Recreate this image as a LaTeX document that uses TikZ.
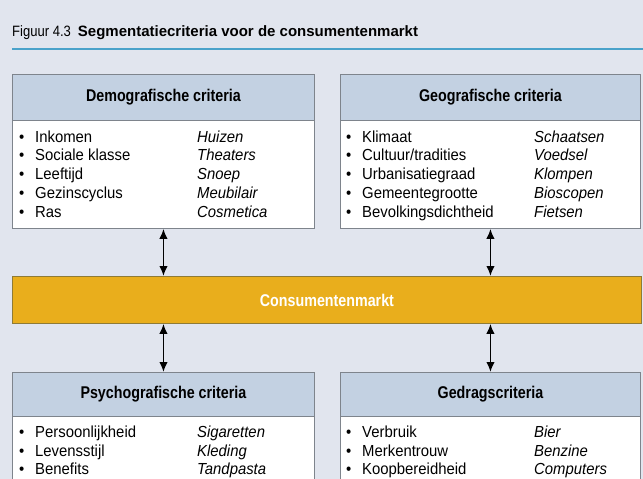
\documentclass[tikz,border=0pt]{standalone}
\usepackage{fontspec}
\setmainfont{Liberation Sans}
\newfontfamily\headfont[FakeStretch=0.84]{Liberation Sans}
\newfontfamily\bodyfont[FakeStretch=0.93]{Liberation Sans}
\newfontfamily\figfont[FakeStretch=0.87]{Liberation Sans}
\usetikzlibrary{arrows.meta}

\definecolor{bgpage}{HTML}{E1E5EE}
\definecolor{hdrfill}{HTML}{C3D1E2}
\definecolor{frameclr}{HTML}{7E848C}
\definecolor{barfill}{HTML}{E9AE1C}
\definecolor{barframe}{HTML}{8F7B36}
\definecolor{ruleclr}{HTML}{4AA2CA}

\tikzset{
  panel/.style={draw=frameclr, line width=0.9pt, fill=white, rectangle,
                inner sep=0pt, anchor=north west},
  panelhead/.style={draw=frameclr, line width=0.9pt, fill=hdrfill, rectangle,
                inner sep=0pt, anchor=north west},
  headtext/.style={inner sep=0pt, font=\headfont\bfseries\fontsize{17}{20}\selectfont},
  itemtext/.style={inner sep=0pt, anchor=base west, font=\bodyfont\fontsize{16}{19}\selectfont},
  biarrow/.style={line width=1.6pt, {Latex[length=10pt,width=8.5pt]}-{Latex[length=10pt,width=8.5pt]}},
}
\newcommand{\bul}[1]{\makebox[16pt][l]{\textbullet}#1}

\begin{document}
\begin{tikzpicture}[x=1pt,y=-1pt]
  \useasboundingbox (0,0) rectangle (643,479);
  \fill[bgpage] (0,0) rectangle (643,479);
  \clip (0,0) rectangle (643,479);

  % title and rule
  \node[inner sep=0pt, anchor=base west] (title) at (12,36)
    {{\figfont\fontsize{15}{18}\selectfont Figuur 4.3}\hspace{7pt}{\fontsize{15}{18}\selectfont\bfseries Segmentatiecriteria voor de consumentenmarkt}};
  \coordinate (ruleL) at (12,49);
  \coordinate (ruleR) at (643,49);
  \draw[ruleclr, line width=2pt] (ruleL) -- (ruleR);

  % upper panels
  \node[panel, minimum width=302pt, minimum height=154pt] (demo) at (12,74) {};
  \node[panelhead, minimum width=302pt, minimum height=46pt] (demoh) at (12,74) {};
  \node[headtext] (demot) at (demoh.center) {Demografische criteria};

  \node[panel, minimum width=300pt, minimum height=154pt] (geo) at (340,74) {};
  \node[panelhead, minimum width=300pt, minimum height=46pt] (geoh) at (340,74) {};
  \node[headtext] (geot) at (geoh.center) {Geografische criteria};

  % central bar
  \node[draw=barframe, line width=0.9pt, fill=barfill, inner sep=0pt,
        anchor=north west, minimum width=629pt, minimum height=47pt] (bar) at (12,276) {};
  \node[headtext, text=white] (bart) at (bar.center) {Consumentenmarkt};

  % lower panels
  \node[panel, minimum width=302pt, minimum height=140pt] (psy) at (12,372) {};
  \node[panelhead, minimum width=302pt, minimum height=44pt] (psyh) at (12,372) {};
  \node[headtext] (psyt) at (psyh.center) {Psychografische criteria};

  \node[panel, minimum width=300pt, minimum height=140pt] (ged) at (340,372) {};
  \node[panelhead, minimum width=300pt, minimum height=44pt] (gedh) at (340,372) {};
  \node[headtext] (gedt) at (gedh.center) {Gedragscriteria};

  % list entries
  \foreach \a/\b [count=\i] in {Inkomen/Huizen, Sociale klasse/Theaters,
      Leeftijd/Snoep, Gezinscyclus/Meubilair, Ras/Cosmetica} {
    \node[itemtext] (demoa\i) at (19,123.25+18.75*\i) {\bul{\a}};
    \node[itemtext] (demob\i) at (197,123.25+18.75*\i) {\itshape\b};
  }
  \foreach \a/\b [count=\i] in {Klimaat/Schaatsen, {Cultuur/tradities}/Voedsel,
      Urbanisatiegraad/Klompen, Gemeentegrootte/Bioscopen,
      Bevolkingsdichtheid/Fietsen} {
    \node[itemtext] (geoa\i) at (346,123.25+18.75*\i) {\bul{\a}};
    \node[itemtext] (geob\i) at (534,123.25+18.75*\i) {\itshape\b};
  }
  \foreach \a/\b [count=\i] in {Persoonlijkheid/Sigaretten, Levensstijl/Kleding,
      Benefits/Tandpasta} {
    \node[itemtext] (psya\i) at (19,418.5+18.75*\i) {\bul{\a}};
    \node[itemtext] (psyb\i) at (197,418.5+18.75*\i) {\itshape\b};
  }
  \foreach \a/\b [count=\i] in {Verbruik/Bier, Merkentrouw/Benzine,
      Koopbereidheid/Computers} {
    \node[itemtext] (geda\i) at (346,418.5+18.75*\i) {\bul{\a}};
    \node[itemtext] (gedb\i) at (534,418.5+18.75*\i) {\itshape\b};
  }

  % two-way arrows between panels and the bar
  \draw[biarrow] (demo.south) -- (demo.south |- bar.north);
  \draw[biarrow] (geo.south) -- (geo.south |- bar.north);
  \draw[biarrow] (psy.north |- bar.south) -- (psy.north);
  \draw[biarrow] (ged.north |- bar.south) -- (ged.north);
\end{tikzpicture}
\end{document}
